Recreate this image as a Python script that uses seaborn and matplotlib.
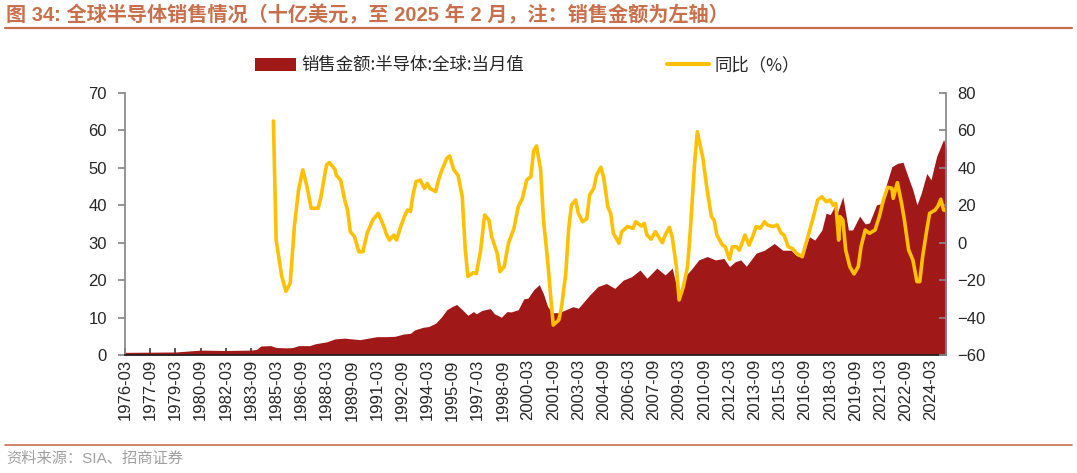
import pandas as pd
import matplotlib.pyplot as plt
import matplotlib.dates as mdates
from matplotlib.patches import Patch
from matplotlib.lines import Line2D
import seaborn as sns

# -----------------------
# DATOS
# -----------------------
sales_dates = [
    "1976-03", "1979-03", "1980-09", "1982-03", "1983-09", "1984-01", "1984-04", "1984-11",
    "1985-03", "1985-11", "1986-03", "1986-07", "1987-03", "1987-07", "1988-03", "1988-09",
    "1989-04", "1989-09", "1990-03", "1990-09", "1991-03", "1991-11", "1992-04", "1992-10",
    "1993-03", "1993-06", "1993-12", "1994-04", "1994-09", "1995-01", "1995-05", "1995-09",
    "1995-12", "1996-04", "1996-08", "1996-12", "1997-02", "1997-06", "1997-12", "1998-03",
    "1998-08", "1998-12", "1999-03", "1999-08", "1999-12", "2000-03", "2000-07", "2000-11",
    "2001-02", "2001-05", "2001-08", "2002-01", "2002-03", "2002-11", "2003-03", "2003-11",
    "2004-05", "2004-11", "2005-05", "2005-11", "2006-05", "2006-11", "2007-04", "2007-11",
    "2008-05", "2008-10", "2009-03", "2009-07", "2009-12", "2010-05", "2010-11", "2011-05",
    "2011-11", "2012-03", "2012-07", "2012-11", "2013-03", "2013-10", "2014-04", "2014-11",
    "2015-05", "2015-11", "2016-03", "2016-07", "2016-12", "2017-04", "2017-09", "2017-12",
    "2018-03", "2018-06", "2018-08", "2018-12", "2019-04", "2019-07", "2019-12", "2020-04",
    "2020-07", "2020-12", "2021-04", "2021-07", "2021-11", "2022-03", "2022-07", "2022-11",
    "2023-02", "2023-05", "2023-08", "2023-12", "2024-03", "2024-07", "2024-12", "2025-02",
]
sales_vals = [
    0.7, 0.8, 1.3, 1.2, 1.3, 1.5, 2.4, 2.5,
    2.0, 1.9, 2.0, 2.5, 2.5, 3.0, 3.5, 4.3,
    4.5, 4.3, 4.1, 4.5, 4.9, 4.9, 5.0, 5.6,
    5.8, 6.7, 7.4, 7.6, 8.5, 10.1, 12.1, 13.0,
    13.5, 12.1, 10.6, 11.6, 11.0, 11.9, 12.4, 11.0,
    10.1, 11.6, 11.5, 12.1, 15.0, 15.2, 17.4, 18.8,
    16.3, 13.0, 11.3, 11.3, 11.6, 12.9, 12.5, 16.0,
    18.3, 19.1, 17.8, 20.0, 20.9, 22.7, 20.5, 23.2,
    21.4, 23.2, 15.6, 20.9, 23.0, 25.4, 26.3, 25.4,
    25.8, 23.6, 24.9, 25.4, 23.7, 27.2, 28.0, 29.8,
    28.0, 28.0, 26.5, 26.3, 31.6, 30.7, 33.4, 37.9,
    37.5, 39.6, 37.9, 42.3, 33.4, 33.4, 37.1, 35.0,
    35.3, 40.1, 40.5, 45.4, 50.3, 51.2, 51.5, 47.2,
    44.1, 40.1, 43.2, 48.5, 46.8, 53.0, 57.6, 55.2,
]

yoy_dates = [
    "1985-01", "1985-03", "1985-07", "1985-10", "1986-01", "1986-04", "1986-07", "1986-10",
    "1987-01", "1987-04", "1987-09", "1987-11", "1988-03", "1988-05", "1988-09", "1988-10",
    "1989-01", "1989-04", "1989-06", "1989-08", "1989-11", "1990-02", "1990-05", "1990-08",
    "1990-12", "1991-04", "1991-08", "1991-10", "1991-12", "1992-03", "1992-05", "1992-08",
    "1992-11", "1993-01", "1993-03", "1993-05", "1993-07", "1993-10", "1994-01", "1994-03",
    "1994-05", "1994-09", "1994-11", "1995-01", "1995-05", "1995-07", "1995-10", "1996-01",
    "1996-04", "1996-06", "1996-08", "1996-12", "1997-02", "1997-05", "1997-08", "1997-11",
    "1998-01", "1998-05", "1998-07", "1998-10", "1999-01", "1999-05", "1999-08", "1999-11",
    "2000-02", "2000-05", "2000-07", "2000-09", "2000-12", "2001-02", "2001-05", "2001-07",
    "2001-09", "2002-01", "2002-03", "2002-06", "2002-08", "2002-10", "2003-01", "2003-03",
    "2003-06", "2003-09", "2003-11", "2004-02", "2004-04", "2004-07", "2004-09", "2004-12",
    "2005-02", "2005-04", "2005-08", "2005-10", "2006-02", "2006-06", "2006-08", "2006-12",
    "2007-02", "2007-04", "2007-07", "2007-10", "2008-03", "2008-05", "2008-08", "2008-10",
    "2009-01", "2009-03", "2009-06", "2009-09", "2009-11", "2010-02", "2010-04", "2010-08",
    "2010-11", "2011-02", "2011-04", "2011-06", "2011-10", "2011-12", "2012-03", "2012-05",
    "2012-08", "2012-10", "2013-02", "2013-05", "2013-08", "2013-10", "2014-01", "2014-04",
    "2014-06", "2014-10", "2015-01", "2015-04", "2015-06", "2015-09", "2015-12", "2016-03",
    "2016-07", "2016-11", "2017-03", "2017-06", "2017-09", "2017-12", "2018-03", "2018-05",
    "2018-07", "2018-09", "2018-10", "2018-12", "2019-02", "2019-05", "2019-08", "2019-11",
    "2020-01", "2020-04", "2020-07", "2020-11", "2021-02", "2021-05", "2021-08", "2021-11",
    "2021-12", "2022-03", "2022-06", "2022-08", "2022-11", "2023-02", "2023-05", "2023-07",
    "2023-09", "2023-12", "2024-02", "2024-06", "2024-08", "2024-10", "2024-12", "2025-02",
]
yoy_vals = [
    65, 1.4, -18, -26, -21.7, 8.6, 28, 38.9,
    30, 18.4, 18.4, 24.6, 41.5, 42.8, 39.2, 36,
    33.5, 22.8, 17.5, 5.9, 3.2, -4.8, -4.8, 5,
    12.1, 15.7, 8.6, 4.1, 1.4, 4.1, 1.4, 8.6,
    14.8, 17.5, 16.6, 26.4, 32.6, 33.5, 29, 31.7,
    29, 27.3, 33.5, 38, 45.1, 46.3, 38.9, 36,
    24.6, -2.1, -18, -16, -16.5, -4.8, 14.8, 12.1,
    3.2, -5.7, -15.5, -12.7, -0.3, 7.7, 19.2, 23.7,
    33.5, 35.2, 49, 51.7, 39, 12.1, -9.2, -27,
    -44, -41.3, -34.2, -16.4, 6.8, 20.1, 22.8, 15.7,
    11.2, 12.9, 25.5, 29.1, 36.2, 40.3, 35, 19.2,
    15.7, 5, -0.3, 5.9, 8.6, 7.7, 11.2, 8.9,
    10.3, 4.1, 1.9, 5.9, 0, 4.1, 8.2, 3.2,
    -12.8, -30.6, -23.5, -12.8, 6.8, 42.4, 59.3, 45.1,
    28.2, 13.9, 12.1, 4.1, -1.3, -2.2, -8.9, -2.2,
    -2.2, -4, 4.1, -1.3, 4.1, 8.6, 7.7, 11.2,
    9.5, 8.6, 9.5, 5, 4.1, -2.2, -3.1, -5.8,
    -7.5, 3.2, 13.9, 22.8, 24.6, 21.9, 22.8, 20.1,
    21, 1.4, 13.9, 12.1, -3.9, -12.8, -16.7, -12.8,
    -2.1, 6.8, 5, 6.8, 13.9, 22.8, 29.6, 29.1,
    23.7, 32.1, 21, 12.1, -3.9, -9.2, -20.8, -20.8,
    -7.5, 6.8, 15.7, 17.5, 19.6, 23.2, 17.5, 17.1,
]

title = "图 34: 全球半导体销售情况（十亿美元，至 2025 年 2 月，注：销售金额为左轴）"
label_sales = "销售金额:半导体:全球:当月值"
label_yoy = "同比（%）"
source = "资料来源：SIA、招商证券"

df_sales = pd.DataFrame({"fecha": pd.to_datetime(sales_dates), "ventas": sales_vals})
df_yoy = pd.DataFrame({"fecha": pd.to_datetime(yoy_dates), "yoy": yoy_vals})

# -----------------------
# ESTILO
# -----------------------
sns.set_theme(style="white")
plt.rcParams['font.family'] = ['Liberation Sans', 'Noto Sans CJK SC', 'DejaVu Sans']
cjk = ['Noto Sans CJK SC', 'DejaVu Sans']

ROJO = "#A01818"
AMARILLO = "#FFC000"
NARANJA = "#C8704E"

fig = plt.figure(figsize=(10.77, 4.73), dpi=100)
ax = fig.add_axes([0.1161, 0.2495, 0.7627, 0.5539])

ax.fill_between(df_sales["fecha"], df_sales["ventas"], color=ROJO, lw=0)
ax.set_ylim(0, 70)
ax.set_yticks(range(0, 71, 10))

ax2 = ax.twinx()
sns.lineplot(data=df_yoy, x="fecha", y="yoy", ax=ax2, color=AMARILLO, linewidth=2.6)
ax2.set_ylim(-60, 80)
ax2.set_yticks(range(-60, 81, 20))

ticks = pd.date_range("1976-03-01", "2024-03-01", freq="18MS")
ax.set_xticks(ticks)
ax.xaxis.set_major_formatter(mdates.DateFormatter("%Y-%m"))
ax.set_xlim(pd.Timestamp("1976-03-01"), pd.Timestamp("2025-02-01"))
for lbl in ax.get_xticklabels():
    lbl.set_rotation(90)

for a in (ax, ax2):
    a.set_xlabel("")
    a.set_ylabel("")
    a.spines["top"].set_visible(False)
    a.grid(False)

ax.spines["left"].set_color("#888888")
ax.spines["right"].set_visible(False)
ax.spines["bottom"].set_color("#222222")
ax2.spines["left"].set_visible(False)
ax2.spines["bottom"].set_visible(False)
ax2.spines["right"].set_color("#888888")

ax.tick_params(axis="y", direction="out", length=5, color="#888888", labelsize=12, pad=8)
ax.tick_params(axis="x", direction="in", length=5, color="#444444", labelsize=12, pad=3, bottom=True)
ax2.tick_params(axis="y", direction="in", length=5, color="#888888", labelsize=12, pad=8, right=True)

# -----------------------
# LEYENDA Y TEXTOS
# -----------------------
handles = [
    Patch(facecolor=ROJO, edgecolor="none"),
    Line2D([0], [0], color=AMARILLO, lw=3),
]
fig.legend(handles, [label_sales, label_yoy], loc="center", bbox_to_anchor=(0.4895, 0.862),
           ncol=2, frameon=False, prop={"family": cjk, "size": 12.5},
           handlelength=2.4, handleheight=0.8, handletextpad=0.3, columnspacing=8.25)

fig.text(0.006, 0.968, title, fontsize=14.5, fontweight="bold", color=NARANJA,
         va="center", ha="left", family=['Liberation Sans', 'Noto Sans CJK SC'])
fig.add_artist(Line2D([0.005, 0.995], [0.9408, 0.9408], color=NARANJA, lw=1.6))
fig.add_artist(Line2D([0.005, 0.995], [0.0592, 0.0592], color=NARANJA, lw=1.2))
fig.text(0.006, 0.031, source, fontsize=11, color="#A0A0A0", va="center", ha="left",
         family=['Liberation Sans', 'Noto Sans CJK SC'])

plt.savefig("out.png", dpi=100)
